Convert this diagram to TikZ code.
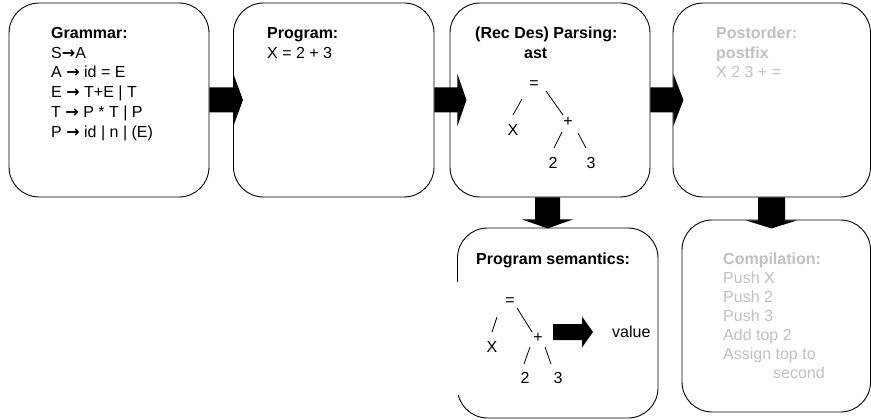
\documentclass[tikz,border=0pt]{standalone}
\usepackage{fontspec}
\setmainfont{Liberation Sans}
\newfontfamily\arrowfont{DejaVu Sans}
\usetikzlibrary{calc}
\definecolor{faded}{RGB}{192,192,192}
\newcommand\ra{{\arrowfont\bfseries →}}
\tikzset{
  box/.style={draw=black, line width=0.9pt, rounded corners=30pt, fill=white, inner sep=0pt},
  txt/.style={anchor=base west, inner sep=0pt, font=\fontsize{16}{19.5}\selectfont},
  ttl/.style={anchor=base west, inner sep=0pt, font=\fontsize{16}{19.5}\selectfont\bfseries},
  faint/.style={text=faded},
  leaf/.style={inner sep=0pt, font=\fontsize{16}{19.5}\selectfont},
  branch/.style={line width=0.8pt},
}
% block arrow pointing right: start, body length, head length, body half-height, head half-height
\newcommand\rightblock[5]{%
  \fill[black, shift={(#1)}] (0,-#4) -- (#2,-#4) -- (#2,-#5) -- (#2+#3,0)
    -- (#2,#5) -- (#2,#4) -- (0,#4) -- cycle;}
% block arrow pointing down: start, body length, head length, body half-width, head half-width
\newcommand\downblock[5]{%
  \fill[black, shift={(#1)}] (-#4,0) -- (-#4,#2) -- (-#5,#2) -- (0,#2+#3)
    -- (#5,#2) -- (#4,#2) -- (#4,0) -- cycle;}
\begin{document}
\begin{tikzpicture}[x=1pt,y=-1pt]
\useasboundingbox (0,0) rectangle (871,420);

% the six stages
\node[box, minimum width=200pt,   minimum height=194pt] (b1) at (109,100) {};
\node[box, minimum width=200.5pt, minimum height=194pt] (b2) at (333.75,100) {};
\node[box, minimum width=200pt,   minimum height=194pt] (b3) at (550,100) {};
\node[box, minimum width=197.5pt, minimum height=194pt] (b4) at (771.75,100) {};
\node[box, minimum width=200.5pt, minimum height=190pt] (b5) at (557.75,323) {};
\node[box, minimum width=188.5pt, minimum height=192pt] (b6) at (776.25,316) {};

% opaque backing of the semantics tree
\fill[white] (452,282) rectangle (600,395);

% grammar
\node[ttl] (g0) at (51,38.5) {Grammar:};
\node[txt] (g1) at (51,58.2) {S\ra A};
\node[txt] (g2) at (51,77.9) {A \ra{} id = E};
\node[txt] (g3) at (51,97.6) {E \ra{} T+E | T};
\node[txt] (g4) at (51,117.3) {T \ra{} P * T | P};
\node[txt] (g5) at (51,137) {P \ra{} id | n | (E)};

% program
\node[ttl] (p0) at (267,38.5) {Program:};
\node[txt] (p1) at (267,58.2) {X = 2 + 3};

% parsing
\node[ttl] (r0) at (475,38.5) {(Rec Des) Parsing:};
\node[ttl] (r1) at (524,58.2) {ast};
\node[leaf] (ra) at (534,85) {=};
\node[leaf] (rx) at (513,130) {X};
\node[leaf] (rp) at (568,122) {+};
\node[leaf] (r2) at (553,163) {2};
\node[leaf] (r3) at (591,163) {3};
\draw[branch] (522,99) -- (513,115);
\draw[branch] (546,91) -- (563,115);
\draw[branch] (562,132) -- (554,148);
\draw[branch] (578,133) -- (586,148);

% postorder
\node[ttl, faint] (o0) at (716,38.5) {Postorder:};
\node[ttl, faint] (o1) at (716,58.2) {postfix};
\node[txt, faint] (o2) at (716,77.9) {X 2 3 + =};

% semantics
\node[ttl] (s0) at (476,264.5) {Program semantics:};
\node[leaf] (sa) at (510,302) {=};
\node[leaf] (sx) at (492,347) {X};
\node[leaf] (sp) at (538,338) {+};
\node[leaf] (s2) at (525,378) {2};
\node[leaf] (s3) at (558,378) {3};
\draw[branch] (497,317) -- (492,332);
\draw[branch] (517,308) -- (532,332);
\draw[branch] (530,347) -- (524,364);
\draw[branch] (545,347) -- (551,364);
\node[txt] (sv) at (612,337) {value};
\coordinate (sarrow) at (553,332);

% compilation
\node[ttl, faint] (c0) at (723,264.5) {Compilation:};
\node[txt, faint] (c1) at (723,283.5) {Push X};
\node[txt, faint] (c2) at (723,302.5) {Push 2};
\node[txt, faint] (c3) at (723,321.5) {Push 3};
\node[txt, faint] (c4) at (723,340.5) {Add top 2};
\node[txt, faint] (c5) at (723,359.5) {Assign top to};
\node[txt, faint] (c6) at (773,378.5) {second};

% block arrows between the stages
\rightblock{b1.east}{24}{9.5}{12.5}{26}
\rightblock{b2.east}{23}{9}{12.5}{26}
\rightblock{b3.east}{23}{10}{12.5}{26}
\downblock{$(b3.south)+(-2.5,0)$}{22}{9}{12.5}{25.5}
\downblock{$(b4.south)+(-0.25,0)$}{23}{8}{13.5}{25.5}
\rightblock{sarrow}{29}{11}{8}{15.5}
\end{tikzpicture}
\end{document}
